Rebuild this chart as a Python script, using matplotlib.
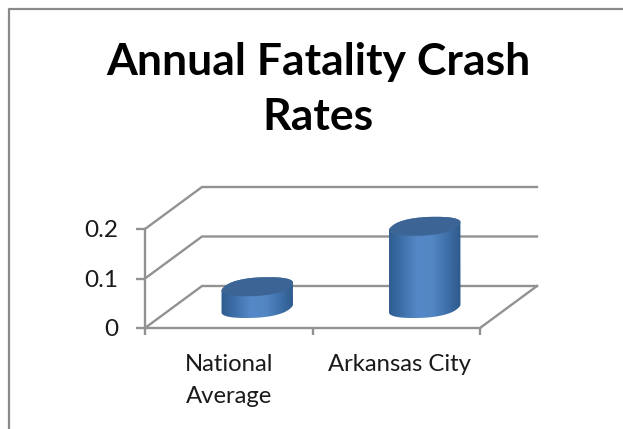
import numpy as np
import matplotlib
matplotlib.use("Agg")
import matplotlib.pyplot as plt
from matplotlib.colors import LinearSegmentedColormap
from matplotlib.patches import PathPatch
from matplotlib.path import Path
from matplotlib.transforms import ScaledTranslation

title = "Annual Fatality Crash\nRates"
categories = ["National\nAverage", "Arkansas City"]
values = [0.044, 0.166]
y_ticks = [0, 0.1, 0.2]
y_tick_labels = ["0", "0.1", "0.2"]

W, H = 623, 429
fig = plt.figure(figsize=(W / 100, H / 100), dpi=100, facecolor="white")
plt.rcParams["font.family"] = ["Lato", "DejaVu Sans"]

# frame of the picture (top and left edges only are in view)
GREY = "#929292"
fig.add_artist(plt.Line2D([8.5 / W, 8.5 / W, 1], [0, 1 - 8.5 / H, 1 - 8.5 / H],
                          color="#8a8a8a", lw=1.6, transform=fig.transFigure))

L, R, T, B = 145, 480, 229, 328
ax = fig.add_axes([L / W, 1 - B / H, (R - L) / W, (B - T) / H])
ax.set_xlim(-0.5, 1.5)
ax.set_ylim(0, 0.2)
ax.patch.set_visible(False)

px_x = 2 / (R - L)
px_y = 0.2 / (B - T)
DX, DY = 57 * px_x, 42 * px_y   # depth vector of the 3-D box

# walls and floor
for v in y_ticks:
    ax.plot([-0.5, -0.5 + DX, 1.5 + DX], [v, v + DY, v + DY], color=GREY, lw=1.7,
            clip_on=False, zorder=1, solid_joinstyle="miter")
ax.plot([1.5, 1.5 + DX], [0, DY], color=GREY, lw=1.7, clip_on=False, zorder=1)

# axes
for s in ("top", "right"):
    ax.spines[s].set_visible(False)
for s in ("left", "bottom"):
    ax.spines[s].set_color(GREY)
    ax.spines[s].set_linewidth(1.7)
ax.set_yticks(y_ticks, y_tick_labels, fontsize=17.5, color="#1a1a1a")
ax.tick_params(axis="y", length=6.5, width=1.7, color=GREY, pad=13)
ax.set_xticks([-0.5, 0.5, 1.5], ["", "", ""])
ax.tick_params(axis="x", which="major", length=5, width=1.7, color=GREY)
ax.set_xticks([0, 1], categories, minor=True, fontsize=17.2, color="#1a1a1a")
ax.tick_params(axis="x", which="minor", length=0, pad=18.5)
minor_labels = ax.get_xticklabels(minor=True)
for lab in minor_labels:
    lab.set_linespacing(1.68)
minor_labels[1].set_transform(minor_labels[1].get_transform()
                              + ScaledTranslation(0.03, 0, fig.dpi_scale_trans))

# cylinders
RX = 33 * px_x
VX, VY = 11 * px_x, 9.5 * px_y
cmap = LinearSegmentedColormap.from_list(
    "cyl", ["#2d5a8e", "#3f70aa", "#5488c6", "#5387c4", "#3e6fa8", "#2c5788"])
t = np.linspace(0, 2 * np.pi, 361)[:-1]
ct = np.sign(np.cos(t)) * np.abs(np.cos(t)) ** 0.85
st = np.sign(np.sin(t)) * np.abs(np.sin(t)) ** 0.85


def ring(cx, cy):
    return (cx + RX * ct + VX * st, cy + VY * st)


for i, val in enumerate(values):
    cx, cy0 = i + 0.5 * DX, 0.5 * DY - 1.5 * px_y
    xb, yb = ring(cx, cy0)
    xt, yt = ring(cx, cy0 + val)
    il = np.argmin(xb)
    ir = np.argmax(xb)
    slope = (yb[ir] - yb[il]) / (xb[ir] - xb[il])
    n = len(t)
    low = sorted([k for k in range(n) if yb[k] - yb[il] - slope * (xb[k] - xb[il]) <= 1e-9],
                 key=lambda k: xb[k])
    up = sorted([k for k in range(n) if yt[k] - yt[il] - slope * (xt[k] - xt[il]) >= -1e-9],
                key=lambda k: -xt[k])
    vx = np.r_[xb[low], xt[up]]
    vy = np.r_[yb[low], yt[up]]
    body = PathPatch(Path(np.c_[vx, vy]), fc="none", ec="none", transform=ax.transData)
    ax.add_patch(body)
    im = ax.imshow(np.linspace(0, 1, 128)[None, :], cmap=cmap, aspect="auto",
                   extent=(xb[il] - 2 * px_x, xb[ir] + 2 * px_x, 0, 0.2 + DY), zorder=3)
    im.set_clip_box(fig.bbox)
    im.set_clip_path(body)
    ax.fill(xt, yt, color="#3c6596", zorder=4, lw=0, clip_on=False)
ax.set_xlim(-0.5, 1.5)
ax.set_ylim(0, 0.2)

fig.text(318 / W, 1 - 89.5 / H, title, ha="center", va="center", fontsize=32,
         fontweight="bold", color="black", linespacing=1.45)

fig.savefig("out.png", dpi=100, facecolor="white")
